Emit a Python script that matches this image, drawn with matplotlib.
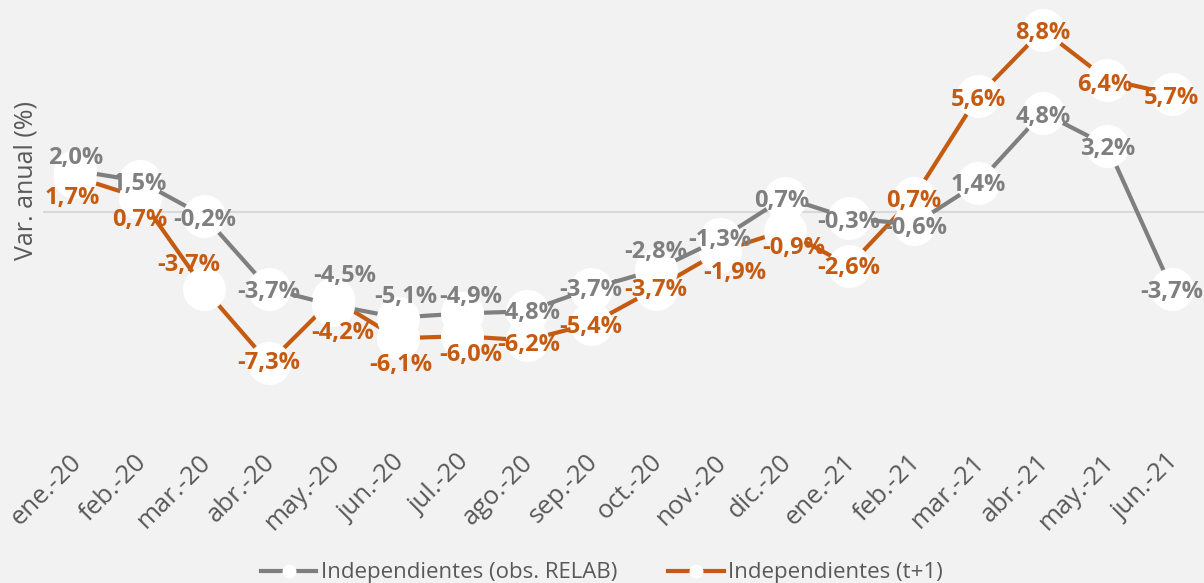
import matplotlib.pyplot as plt
import matplotlib.transforms as mtransforms

months = ["ene.-20", "feb.-20", "mar.-20", "abr.-20", "may.-20", "jun.-20",
          "jul.-20", "ago.-20", "sep.-20", "oct.-20", "nov.-20", "dic.-20",
          "ene.-21", "feb.-21", "mar.-21", "abr.-21", "may.-21", "jun.-21"]
relab = [2.0, 1.5, -0.2, -3.7, -4.5, -5.1, -4.9, -4.8, -3.7, -2.8, -1.3, 0.7,
         -0.3, -0.6, 1.4, 4.8, 3.2, -3.7]
t_plus1 = [1.7, 0.7, -3.7, -7.3, -4.2, -6.1, -6.0, -6.2, -5.4, -3.7, -1.9, -0.9,
           -2.6, 0.7, 5.6, 8.8, 6.4, 5.7]

# label offsets in pixels (dx, dy), dy measured downward like the picture
off_relab = [(0, -13), (0, 3), (0, 4), (0, 3), (12, -29), (8, -21), (8, -16),
             (2, 2), (0, 1), (0, -18), (0, 1), (-3, 3), (0, 4), (2, 4),
             (0, 2), (0, 4), (0, 3), (0, 3)]
off_t1 = [(-3, 21), (0, 22), (-16, -24), (0, 0), (9, 34), (3, 27), (8, 19),
          (2, 5), (0, 3), (0, 1), (15, 22), (9, 17), (0, 2), (0, 3),
          (0, 4), (0, 3), (-2, 5), (0, 4)]

GRAY = "#7F7F7F"
ORANGE = "#C55A11"
TXT = "#595959"
BG = "#F2F2F2"

plt.rcParams['font.family'] = ['Open Sans', 'DejaVu Sans']

fig = plt.figure(figsize=(12.04, 5.83), dpi=100, facecolor=BG)
ax = fig.add_axes([43 / 1204, 1 - 419 / 583, 1 - 43 / 1204, 414 / 583])
ax.set_facecolor(BG)

x = list(range(len(months)))
ax.axhline(0, color="#D9D9D9", lw=1.5, zorder=1)

ax.plot(x, relab, color=GRAY, lw=3, marker="o", ms=30, mfc="white",
        mec="white", zorder=3, label="Independientes (obs. RELAB)")
ax.plot(x, t_plus1, color=ORANGE, lw=3, marker="o", ms=30, mfc="white",
        mec="white", zorder=2, label="Independientes (t+1)")

for xi, v, (dx, dy) in zip(x, relab, off_relab):
    ax.annotate(f"{v:.1f}%".replace(".", ","), (xi, v), xytext=(dx, -dy),
                textcoords="offset pixels", ha="center", va="center",
                fontsize=17, fontweight="bold", color=GRAY, zorder=5)
for xi, v, (dx, dy) in zip(x, t_plus1, off_t1):
    ax.annotate(f"{v:.1f}%".replace(".", ","), (xi, v), xytext=(dx, -dy),
                textcoords="offset pixels", ha="center", va="center",
                fontsize=17, fontweight="bold", color=ORANGE, zorder=5)

ax.set_xlim(-0.5, len(months) - 0.5)
ax.set_ylim(-10, 10)
ax.set_yticks([])
ax.set_xticks(x)
ax.set_xticklabels(months, rotation=45, ha="right", va="top",
                   rotation_mode="anchor", fontsize=18.5, color=TXT)
ax.tick_params(axis="x", length=0, pad=22)
shift = mtransforms.ScaledTranslation(-6 / 100, 0, fig.dpi_scale_trans)
for lab in ax.get_xticklabels():
    lab.set_transform(lab.get_transform() + shift)
for s in ax.spines.values():
    s.set_visible(False)

ax.set_ylabel("Var. anual (%)", fontsize=18, color=TXT)
ax.yaxis.set_label_coords(-0.004, 0.577)

leg = fig.legend(loc="lower center", bbox_to_anchor=(0.5, -0.035), ncol=2,
                 frameon=False, fontsize=16, handlelength=2.5,
                 handletextpad=0.2, columnspacing=2.3, markerscale=0.3)
for t in leg.get_texts():
    t.set_color(TXT)

fig.savefig("out.png", dpi=100, facecolor=BG)
